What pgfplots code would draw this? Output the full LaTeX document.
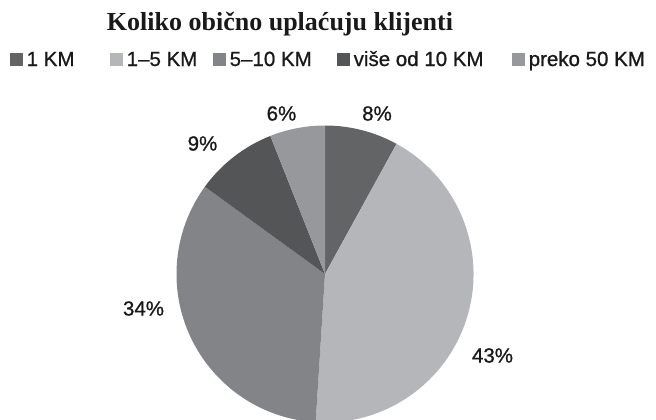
\documentclass[border=0pt]{standalone}
\usepackage{fontspec}
\setmainfont{Liberation Serif}
\newfontfamily\lab[FakeBold=0.9]{Liberation Sans}
\usepackage{pgfplots}
\usepackage{pgfplotstable}
\pgfplotsset{compat=1.18}

\definecolor{c1}{HTML}{636466}
\definecolor{c2}{HTML}{B5B6B9}
\definecolor{c3}{HTML}{838487}
\definecolor{c4}{HTML}{545557}
\definecolor{c5}{HTML}{97989B}

% share (%), colour, legend name, label position, legend square x
\pgfplotstableread[col sep=comma]{
val,col,name,labx,laby,legx
8,c1,1 KM,377,305.5,10
43,c2,1–5 KM,492.5,63.5,110
34,c3,5–10 KM,143.5,110.5,213
9,c4,više od 10 KM,202.5,275.5,337
6,c5,preko 50 KM,281.5,305.5,512
}\slices

\begin{document}
\begin{tikzpicture}
\begin{axis}[
    hide axis,
    x=1bp, y=1bp,
    xmin=0, xmax=656, ymin=0, ymax=419,
    clip=false,
]
\coordinate (LL) at (axis cs:0,0);
\coordinate (UR) at (axis cs:656,419);

\pgfplotstablegetrowsof{\slices}
\pgfmathtruncatemacro{\nrows}{\pgfplotsretval-1}
\def\acc{90}
\pgfplotsforeachungrouped \i in {0,...,\nrows}{%
    \pgfplotstablegetelem{\i}{val}\of\slices \let\v\pgfplotsretval
    \pgfplotstablegetelem{\i}{col}\of\slices \let\c\pgfplotsretval
    \pgfplotstablegetelem{\i}{name}\of\slices \let\n\pgfplotsretval
    \pgfplotstablegetelem{\i}{labx}\of\slices \let\lx\pgfplotsretval
    \pgfplotstablegetelem{\i}{laby}\of\slices \let\ly\pgfplotsretval
    \pgfplotstablegetelem{\i}{legx}\of\slices \let\gx\pgfplotsretval
    \pgfmathsetmacro{\e}{\acc-3.6*\v}
    \pgfmathsetmacro{\tx}{\gx+16.5}
    \edef\wedge{%
        \noexpand\fill[\c] (axis cs:325,145) -- ++(\acc:148.5bp)
            arc[start angle=\acc, end angle=\e, radius=148.5bp] -- cycle;
        \noexpand\node[font=\noexpand\lab\noexpand\fontsize{20.5bp}{24bp}\noexpand\selectfont,
            text=black!90, inner sep=0pt] at (axis cs:\lx,\ly) {\v\noexpand\%};
        \noexpand\fill[\c] (axis cs:\gx,353.5) rectangle (axis cs:\gx+12.5,366);
        \noexpand\node[font=\noexpand\lab\noexpand\fontsize{20.5bp}{24bp}\noexpand\selectfont,
            text=black!90, inner sep=0pt, anchor=base west] at (axis cs:\tx,353) {\n};
    }%
    \wedge
    \let\acc\e
}

\node[font=\bfseries\fontsize{26bp}{30bp}\selectfont, text=black!90,
    inner sep=0pt, anchor=base] at (axis cs:280,388) {Koliko obično uplaćuju klijenti};
\end{axis}
\pgfresetboundingbox
\useasboundingbox (LL) rectangle (UR);
\end{tikzpicture}
\end{document}
